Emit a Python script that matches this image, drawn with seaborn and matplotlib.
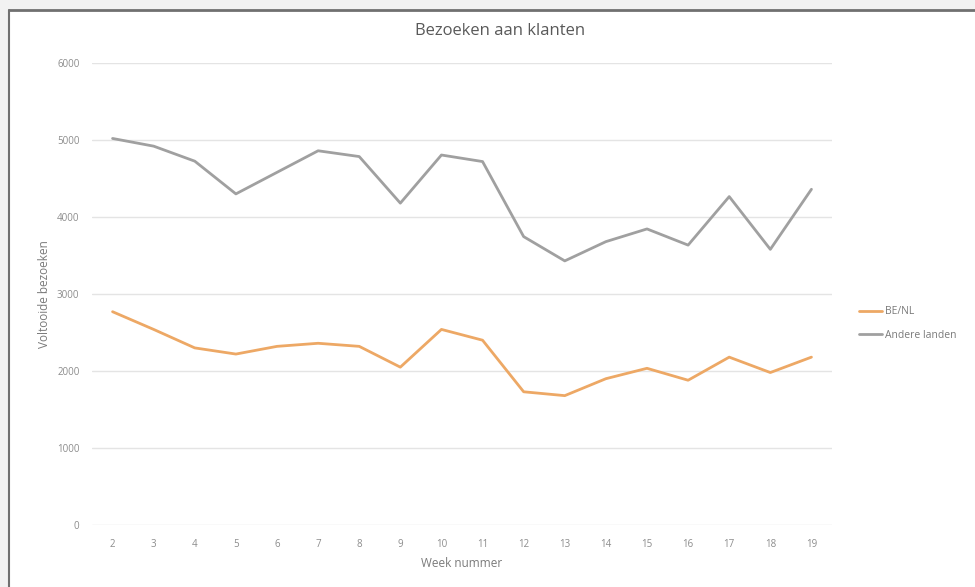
import pandas as pd
import seaborn as sns
import matplotlib.pyplot as plt
from matplotlib.patches import Rectangle

weeks = list(range(2, 20))
be_nl = [2770, 2540, 2300, 2220, 2320, 2360, 2320, 2050, 2540, 2400,
         1730, 1680, 1900, 2035, 1880, 2180, 1980, 2180]
andere_landen = [5020, 4920, 4725, 4300, 4580, 4860, 4785, 4180, 4805, 4720,
                 3745, 3430, 3680, 3845, 3635, 4265, 3580, 4360]
series_names = ["BE/NL", "Andere landen"]
colors = ["#EDA865", "#A0A0A0"]

df = pd.DataFrame({
    "week": weeks * 2,
    "bezoeken": be_nl + andere_landen,
    "reeks": [series_names[0]] * len(weeks) + [series_names[1]] * len(weeks),
})

sns.set_theme(style="white")
plt.rcParams["font.family"] = ["Open Sans", "DejaVu Sans"]

W, H = 975, 587
fig = plt.figure(figsize=(W / 100, H / 100), dpi=100)
fig.patch.set_facecolor("#f2f2f2")
# white card with dark top/left edge (screenshot frame)
fig.add_artist(Rectangle((9 / W, 0), 1, (H - 10) / H, transform=fig.transFigure,
                         facecolor="white", edgecolor="none", zorder=-10))
fig.add_artist(plt.Line2D([9 / W, 1], [(H - 9.5) / H] * 2, transform=fig.transFigure,
                          color="#707070", lw=2, zorder=-5))
fig.add_artist(plt.Line2D([8.5 / W] * 2, [0, (H - 9.5) / H], transform=fig.transFigure,
                          color="#707070", lw=1.5, zorder=-5))

ax = fig.add_axes([92 / W, (H - 525) / H, (832 - 92) / W, (525 - 63) / H])
ax.set_facecolor("none")

sns.lineplot(data=df, x="week", y="bezoeken", hue="reeks", hue_order=series_names,
             palette=colors, linewidth=2.0, ax=ax, legend=False)

ax.set_xlim(1.5, 19.5)
ax.set_ylim(0, 6000)
ax.set_xticks(weeks)
ax.set_yticks(range(0, 6001, 1000))
ax.yaxis.grid(True, color="#e4e4e4", linewidth=1)
ax.xaxis.grid(False)
ax.set_axisbelow(True)
for s in ax.spines.values():
    s.set_visible(False)
ax.tick_params(axis="both", length=0, labelsize=7, labelcolor="#8c8c8c")
ax.tick_params(axis="x", pad=10)
ax.tick_params(axis="y", pad=9)

ax.set_xlabel("Week nummer", fontsize=8.5, color="#7a7a7a", labelpad=5)
ax.set_ylabel("Voltooide bezoeken", fontsize=8.5, color="#7a7a7a", labelpad=4)
fig.text(500 / W, (H - 31) / H, "Bezoeken aan klanten", ha="center", va="center",
         fontsize=12, color="#595959")

handles = [plt.Line2D([], [], color=c, lw=2) for c in colors]
fig.legend(handles, series_names, loc="upper left", bbox_to_anchor=(850 / W, (H - 297) / H),
           frameon=False, fontsize=7.5, handlelength=2.2, handletextpad=0.3,
           labelspacing=1.2, labelcolor="#7a7a7a")

fig.savefig("out.png", dpi=100)
